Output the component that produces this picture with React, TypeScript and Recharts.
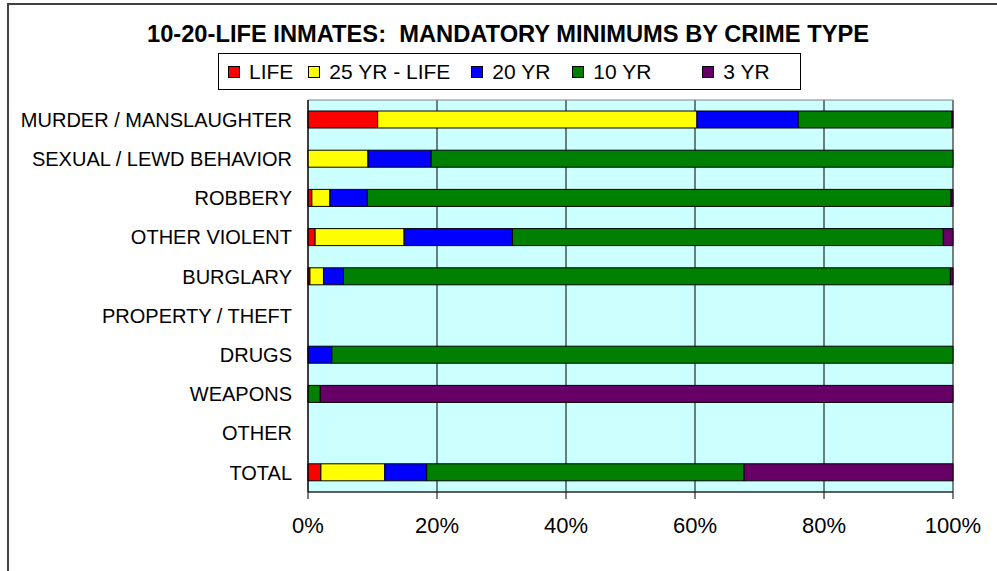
import React from 'react';
import { BarChart, Bar, XAxis, YAxis, CartesianGrid, ReferenceArea } from 'recharts';

const categories = [
  'MURDER / MANSLAUGHTER',
  'SEXUAL / LEWD BEHAVIOR',
  'ROBBERY',
  'OTHER VIOLENT',
  'BURGLARY',
  'PROPERTY / THEFT',
  'DRUGS',
  'WEAPONS',
  'OTHER',
  'TOTAL',
];

// percent of inmates in each row
const life = [10.8, 0, 0.6, 1.1, 0.3, 0, 0, 0, 0, 2.0];
const yr25Life = [49.5, 9.3, 2.8, 13.8, 2.1, 0, 0, 0, 0, 9.9];
const yr20 = [15.7, 9.8, 5.8, 16.8, 3.1, 0, 3.7, 0, 0, 6.5];
const yr10 = [23.8, 80.9, 90.5, 66.8, 94.1, 0, 96.3, 1.9, 0, 49.2];
const yr3 = [0.2, 0, 0.3, 1.5, 0.4, 0, 0, 98.1, 0, 32.4];

const xTicks = [0, 20, 40, 60, 80, 100];
const edgeTicks = [0, 1, 2, 3, 4, 5, 6, 7, 8, 9, 10];

const series = [
  { key: 'life', name: 'LIFE', color: '#FF0000' },
  { key: 'yr25Life', name: '25 YR - LIFE', color: '#FFFF00' },
  { key: 'yr20', name: '20 YR', color: '#0000FF' },
  { key: 'yr10', name: '10 YR', color: '#008000' },
  { key: 'yr3', name: '3 YR', color: '#660066' },
];

const data = categories.map((name, i) => ({
  name,
  life: life[i],
  yr25Life: yr25Life[i],
  yr20: yr20[i],
  yr10: yr10[i],
  yr3: yr3[i],
}));

const FONT = '"Liberation Sans", Arial, sans-serif';
const legendGaps = [15, 21, 22, 51, 0];

const CustomLegend = () => (
  <div
    style={{
      position: 'absolute',
      left: 218,
      top: 53,
      display: 'flex',
      alignItems: 'center',
      boxSizing: 'border-box',
      width: 583,
      height: 37,
      paddingLeft: 9,
      border: '1px solid #000',
      background: '#fff',
      fontFamily: FONT,
      fontSize: 21,
      color: '#000',
    }}
  >
    {series.map((s, i) => (
      <div key={s.key} style={{ display: 'flex', alignItems: 'center', marginRight: legendGaps[i] }}>
        <span
          style={{
            display: 'inline-block',
            width: 10,
            height: 10,
            background: s.color,
            border: '1px solid #000',
            marginRight: 9,
          }}
        />
        <span>{s.name}</span>
      </div>
    ))}
  </div>
);

export default function App() {
  return (
    <div style={{ position: 'absolute', left: 0, top: 0, width: 997, height: 571, overflow: 'hidden', background: '#fff' }}>
      <div
        style={{
          position: 'absolute',
          left: 7,
          top: 3,
          width: 1010,
          height: 600,
          border: '2px solid #404040',
        }}
      />
      <div
        style={{
          position: 'absolute',
          left: 0,
          top: 21,
          width: 1016,
          textAlign: 'center',
          fontFamily: FONT,
          fontWeight: 'bold',
          fontSize: 23.7,
          color: '#000',
          whiteSpace: 'pre',
        }}
      >
        {'10-20-LIFE INMATES:  MANDATORY MINIMUMS BY CRIME TYPE'}
      </div>
      <BarChart
        width={997}
        height={571}
        data={data}
        layout="vertical"
        margin={{ top: 100, right: 44, bottom: 0, left: 0 }}
        barSize={17}
        style={{ position: 'absolute', left: 0, top: 0 }}
      >
        <CartesianGrid horizontal={false} vertical fill="#CCFFFF" stroke="#000" strokeOpacity={1} />
        <XAxis
          type="number"
          domain={[0, 100]}
          ticks={xTicks}
          tickFormatter={(v: number) => `${v}%`}
          height={79}
          tickSize={7}
          tickMargin={18}
          axisLine={{ stroke: '#000' }}
          tickLine={{ stroke: '#000' }}
          tick={{ fill: '#000', fontSize: 22, fontFamily: FONT }}
          interval={0}
        />
        <YAxis
          type="category"
          dataKey="name"
          width={308}
          tickSize={0}
          tickMargin={16}
          axisLine={{ stroke: '#000' }}
          tickLine={false}
          tick={{ fill: '#000', fontSize: 20, fontFamily: FONT }}
          interval={0}
        />
        <YAxis
          yAxisId="edge"
          type="number"
          domain={[0, 10]}
          ticks={edgeTicks}
          width={0}
          tickSize={6}
          tick={false}
          axisLine={false}
          tickLine={{ stroke: '#000' }}
        />
        <ReferenceArea x1={0} x2={100} fill="none" stroke="#808080" strokeWidth={1} ifOverflow="visible" />
        {series.map((s) => (
          <Bar
            key={s.key}
            dataKey={s.key}
            name={s.name}
            stackId="a"
            fill={s.color}
            stroke="#000"
            strokeWidth={1}
            isAnimationActive={false}
          />
        ))}
      </BarChart>
      <CustomLegend />
    </div>
  );
}
